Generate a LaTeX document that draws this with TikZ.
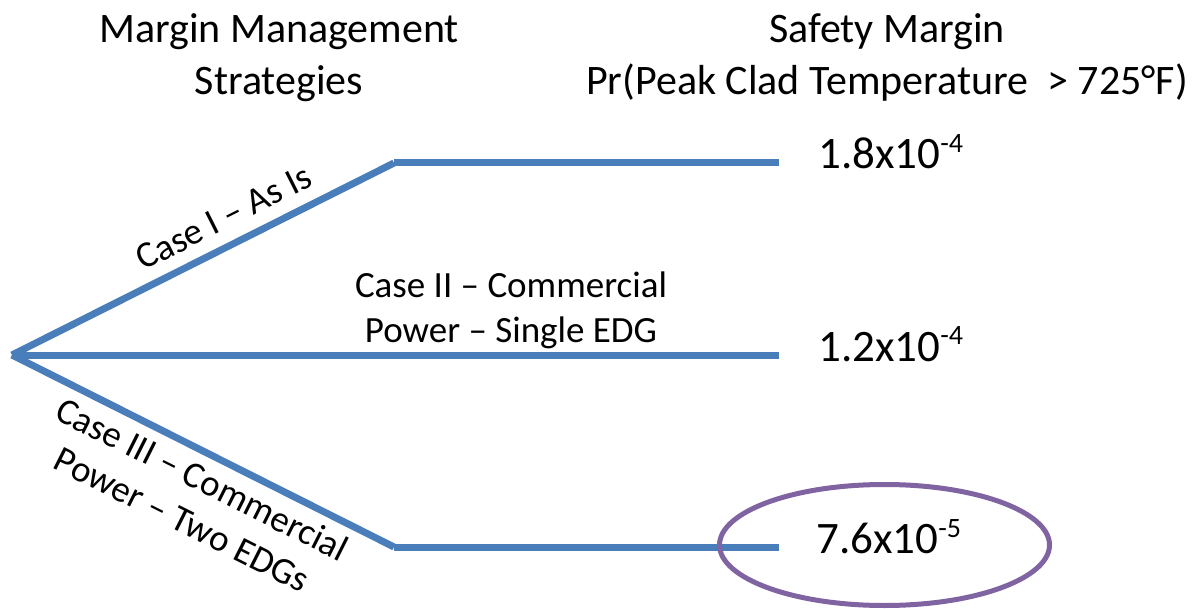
\documentclass[tikz,border=0pt]{standalone}
\usepackage{fontspec}
\setmainfont{Carlito}
\usetikzlibrary{shapes.geometric}
\definecolor{branchblue}{RGB}{74,126,187}
\definecolor{ringpurple}{RGB}{128,100,162}
\newcommand{\sciexp}[2]{#1x10\raisebox{16bp}{\fontsize{28bp}{28bp}\selectfont #2}}
\begin{document}
\begin{tikzpicture}[x=1bp,y=-1bp,
  branch/.style={draw=branchblue, line width=7bp},
  hdr/.style={font=\fontsize{42bp}{52bp}\selectfont, align=center, inner sep=0pt},
  val/.style={font=\fontsize{45bp}{54bp}\selectfont, inner sep=0pt, anchor=base west},
  lbl/.style={font=\fontsize{37bp}{45bp}\selectfont, align=center, inner sep=0pt}]
\useasboundingbox (0,0) rectangle (1195,609);

% headers
\node[hdr] (hleft) at (279,57.5) {Margin Management\\Strategies};
\node[hdr] (hright) at (887,57) {Safety Margin\\Pr(Peak Clad Temperature\ \ > 725°F)};

% branch points
\coordinate (root) at (12,355);
\coordinate (k1) at (394,163);
\coordinate (e1) at (779,163);
\coordinate (e2) at (779,355);
\coordinate (k3) at (394,547);
\coordinate (e3) at (779,547);

\draw[branch] (root) -- (k1);
\draw[branch] (k1) -- (e1);
\draw[branch] (root) -- (e2);
\draw[branch] (root) -- (k3);
\draw[branch] (k3) -- (e3);

% case labels
\node[lbl, anchor=base, rotate=26.7] (c1) at (229,228) {Case I -- As Is};
\node[lbl] (c2) at (511,310) {Case II -- Commercial\\Power -- Single EDG};
\node[lbl, rotate=-26.7] (c3) at (192.4,499.1) {Case III -- Commercial\\Power -- Two EDGs};

% values
\node[val] (v1) at (818,169) {\sciexp{1.8}{-4}};
\node[val] (v2) at (818,361) {\sciexp{1.2}{-4}};
\node[val] (v3) at (816,553) {\sciexp{7.6}{-5}};

% highlight
\node[ellipse, draw=ringpurple, line width=5bp, inner sep=0pt,
      minimum width=330bp, minimum height=121bp] (ring) at (884.5,545) {};
\end{tikzpicture}
\end{document}
